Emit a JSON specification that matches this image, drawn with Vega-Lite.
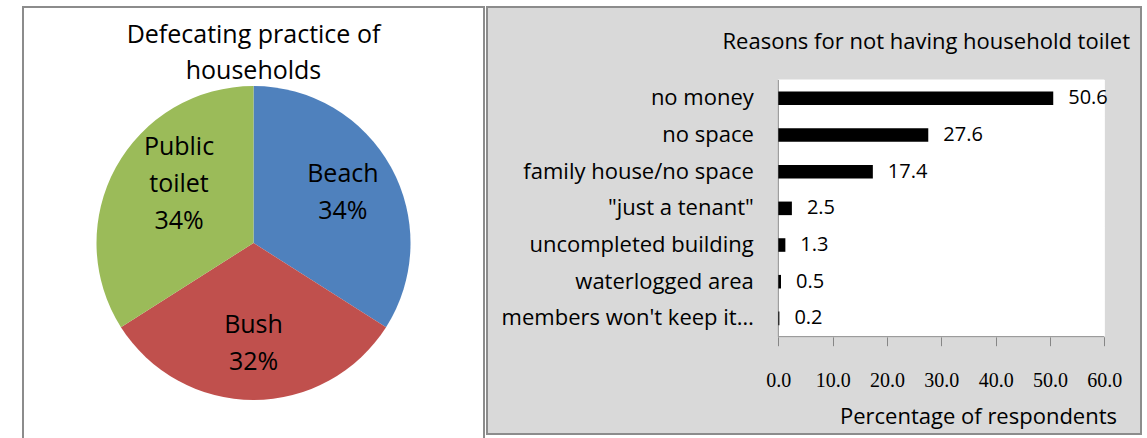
{
  "$schema": "https://vega.github.io/schema/vega-lite/v6.json",
  "background": "white",
  "padding": {"left": 22, "top": 6, "right": 0, "bottom": 0},
  "spacing": 1,
  "config": {"font": "Open Sans", "view": {"stroke": null}},
  "datasets": {
    "practice": [
      {"practice": "Beach", "pct": 34, "label": "Beach\n34%", "lines": 2},
      {"practice": "Bush", "pct": 32, "label": "Bush\n32%", "lines": 2},
      {"practice": "Public toilet", "pct": 34, "label": "Public\ntoilet\n34%", "lines": 3}
    ],
    "reasons": [
      {"reason": "no money", "pct": 50.6},
      {"reason": "no space", "pct": 27.6},
      {"reason": "family house/no space", "pct": 17.4},
      {"reason": "\"just a tenant\"", "pct": 2.5},
      {"reason": "uncompleted building", "pct": 1.3},
      {"reason": "waterlogged area", "pct": 0.5},
      {"reason": "members won't keep it…", "pct": 0.2}
    ]
  },
  "hconcat": [
    {
      "width": 461,
      "height": 472,
      "view": {"fill": "white", "stroke": "#8c8c8c", "strokeWidth": 2},
      "title": {
        "text": ["Defecating practice of", "households"],
        "font": "Open Sans", "fontSize": 25, "fontWeight": "normal", "color": "black",
        "anchor": "middle", "baseline": "top", "lineHeight": 36, "offset": -77
      },
      "data": {"name": "practice"},
      "layer": [
        {
          "mark": {"type": "arc", "outerRadius": 157},
          "encoding": {
            "theta": {"field": "pct", "type": "quantitative", "stack": true},
            "color": {
              "field": "practice", "type": "nominal",
              "scale": {"domain": ["Beach", "Bush", "Public toilet"], "range": ["#4F81BD", "#C0504D", "#9BBB59"]},
              "legend": null
            }
          }
        },
        {
          "mark": {"type": "text", "radius": 102, "dy": -20, "font": "Open Sans", "fontSize": 25, "lineBreak": "\n", "lineHeight": 37, "color": "black", "baseline": "middle", "align": "center"},
          "encoding": {
            "theta": {"field": "pct", "type": "quantitative", "stack": true},
            "text": {"condition": {"test": "datum.lines == 2", "field": "label"}, "value": ""}
          }
        },
        {
          "mark": {"type": "text", "radius": 85, "dy": -55, "font": "Open Sans", "fontSize": 25, "lineBreak": "\n", "lineHeight": 37, "color": "black", "baseline": "middle", "align": "center"},
          "encoding": {
            "theta": {"field": "pct", "type": "quantitative", "stack": true},
            "text": {"condition": {"test": "datum.lines == 3", "field": "label"}, "value": ""}
          }
        }
      ]
    },
    {
      "width": 654,
      "height": 427,
      "view": {"fill": "#D9D9D9", "stroke": "#8c8c8c", "strokeWidth": 2},
      "title": {
        "text": "Reasons for not having household toilet",
        "font": "Open Sans", "fontSize": 22, "fontWeight": "normal", "color": "black",
        "anchor": "end", "frame": "group", "baseline": "top", "offset": -47, "dx": -11
      },
      "data": {"name": "reasons"},
      "layer": [
        {
          "mark": {"type": "rect", "fill": "white", "stroke": "white", "strokeWidth": 1},
          "encoding": {
            "x": {"datum": 0, "type": "quantitative", "scale": {"domain": [-53.61, 66.75], "nice": false, "zero": false}},
            "x2": {"datum": 60},
            "y": {
              "field": "reason", "type": "nominal", "sort": null,
              "scale": {"domain": ["no money", "no space", "family house/no space", "\"just a tenant\"", "uncompleted building", "waterlogged area", "members won't keep it…"], "range": [73, 329.7], "paddingInner": 0, "paddingOuter": 0},
              "axis": {
                "title": null, "orient": "left", "offset": -291.3, "domain": false, "ticks": false, "grid": false,
                "labelPadding": 25, "labelFont": "Open Sans", "labelFontSize": 22, "labelColor": "black", "labelLimit": 400
              }
            }
          }
        },
        {
          "data": {"values": [{}]},
          "mark": {"type": "rule", "color": "#868686", "strokeWidth": 1},
          "encoding": {
            "x": {"datum": 0, "type": "quantitative", "scale": {"domain": [-53.61, 66.75], "nice": false, "zero": false}},
            "y": {"datum": "no money", "type": "nominal", "bandPosition": 0},
            "y2": {"datum": "members won't keep it…", "bandPosition": 1}
          }
        },
        {
          "data": {"values": [{}]},
          "mark": {"type": "rule", "color": "#868686", "strokeWidth": 1},
          "encoding": {
            "x": {"datum": 0, "type": "quantitative", "scale": {"domain": [-53.61, 66.75], "nice": false, "zero": false}},
            "x2": {"datum": 60},
            "y": {"datum": "members won't keep it…", "type": "nominal", "bandPosition": 1}
          }
        },
        {
          "mark": {"type": "bar", "color": "black", "height": {"band": 0.37}},
          "encoding": {
            "x": {
              "field": "pct", "type": "quantitative",
              "scale": {"domain": [-53.61, 66.75], "nice": false, "zero": false},
              "axis": {
                "orient": "bottom", "offset": -97.3, "values": [0, 10, 20, 30, 40, 50, 60], "format": ".1f",
                "domain": false, "grid": false, "tickSize": 9, "tickColor": "#868686",
                "labelFont": "Liberation Serif", "labelFontSize": 20, "labelColor": "black", "labelPadding": 25, "labelFlush": false,
                "title": "Percentage of respondents", "titleFont": "Open Sans", "titleFontSize": 22, "titleFontWeight": "normal",
                "titleColor": "black", "titleX": 491, "titleY": 80, "titleAlign": "center", "titleBaseline": "middle"
              }
            },
            "y": {"field": "reason", "type": "nominal", "sort": null}
          }
        },
        {
          "mark": {"type": "text", "align": "left", "baseline": "middle", "dx": 15, "font": "Open Sans", "fontSize": 20, "color": "black"},
          "encoding": {
            "x": {"field": "pct", "type": "quantitative", "scale": {"domain": [-53.61, 66.75], "nice": false, "zero": false}},
            "y": {"field": "reason", "type": "nominal", "sort": null},
            "text": {"field": "pct", "type": "quantitative", "format": ".1f"}
          }
        }
      ]
    }
  ]
}
